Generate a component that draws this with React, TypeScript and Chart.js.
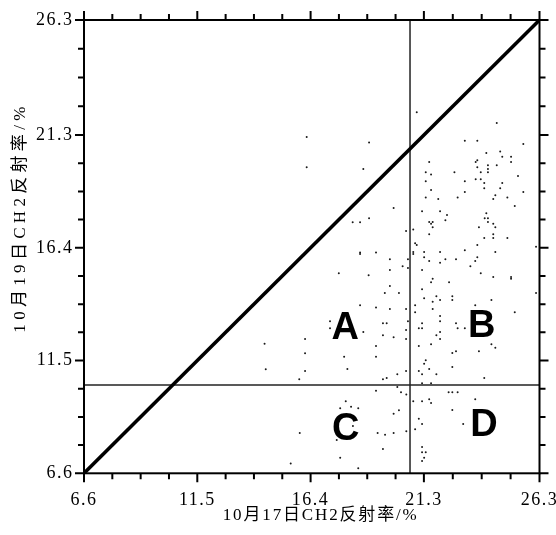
import { useEffect, useRef } from 'react';
import { Chart, registerables } from 'chart.js';

Chart.register(...registerables);

// ---- data ----
const AXIS_MIN = 6.6;
const AXIS_MAX = 26.3;
const tickLabels = ['6.6', '11.5', '16.4', '21.3', '26.3'];
const majorTicks = [6.6, 11.5, 16.4, 21.3, 26.3];
const xTitle = '10月17日CH2反射率/%';
const yTitle = '10月19日CH2反射率/%';

const splitX = 20.7;
const splitY = 10.44;

const regionLabels = ['A', 'B', 'C', 'D'];
const regionX = [17.9, 23.8, 17.92, 23.9];
const regionY = [13.04, 13.12, 8.64, 8.82];

const ptX = [
  16.23, 18.93, 20.99, 16.23, 18.68, 19.99, 18.22, 18.54, 18.93, 20.53,
  20.84, 24.45, 23.07, 23.61, 25.60, 24.00, 24.60, 24.69, 25.07, 21.53,
  23.54, 23.61, 25.07, 24.07, 24.45, 23.61, 24.07, 21.38, 21.61, 22.62,
  23.76, 24.07, 25.37, 21.38, 23.07, 23.54, 23.76, 23.91, 24.69, 21.61,
  23.91, 24.60, 25.60, 23.07, 21.38, 21.92, 22.76, 24.39, 24.30, 24.91,
  25.23, 21.22, 22.00, 22.30, 22.23, 24.00, 23.93, 24.07, 24.07, 24.30,
  24.39, 23.68, 21.53, 21.68, 21.61, 21.68, 21.53, 24.30, 24.30, 23.91,
  24.91, 20.92, 20.99, 23.61, 26.15, 23.07, 21.31, 22.00, 24.39, 20.84,
  20.84, 21.31, 23.61, 22.23, 22.69, 21.53, 22.00, 23.52, 23.31, 20.61,
  20.38, 20.61, 21.22, 23.76, 24.30, 25.07, 25.07, 21.61, 21.68, 22.39,
  21.22, 26.15, 21.31, 21.84, 21.68, 22.00, 22.53, 22.53, 24.22, 20.92,
  23.52, 20.53, 21.68, 20.92, 25.23, 22.00, 20.61, 22.00, 21.22, 22.69,
  21.08, 21.22, 22.76, 23.07, 22.00, 20.53, 21.84, 22.00, 20.53, 21.61,
  21.08, 24.22, 24.39, 22.53, 22.69, 23.68, 21.38, 21.31, 21.53, 22.53,
  20.53, 21.08, 21.22, 21.84, 23.91, 18.54, 18.54, 19.23, 19.83, 19.83,
  17.62, 18.91, 19.83, 19.61, 20.22, 18.54, 19.23, 19.83, 17.24, 17.24,
  19.53, 19.69, 18.68, 19.53, 19.99, 16.16, 16.16, 19.23, 19.23, 17.85,
  17.99, 16.16, 15.91, 19.53, 19.69, 20.15, 14.46, 14.41, 19.23, 20.15,
  20.31, 20.54, 20.84, 17.92, 17.68, 18.15, 18.46, 20.22, 19.99, 18.23,
  15.93, 19.30, 19.62, 19.99, 20.54, 20.92, 17.53, 19.53, 17.68, 15.54,
  18.46, 21.22, 21.61, 22.37, 22.53, 22.76, 21.22, 21.53, 21.61, 23.52,
  22.53, 21.08, 21.22, 23.00, 21.22, 21.38, 21.31, 21.22, 21.22,
];

const ptY = [
  21.22, 20.98, 22.29, 19.90, 19.82, 18.13, 17.51, 17.51, 17.68, 17.13,
  17.20, 21.82, 21.05, 21.05, 20.91, 20.52, 20.59, 20.36, 20.36, 20.13,
  20.13, 20.20, 20.13, 19.99, 19.99, 19.90, 19.82, 19.68, 19.59, 19.68,
  19.68, 19.68, 19.52, 19.29, 19.29, 19.38, 19.38, 19.22, 19.22, 18.91,
  18.99, 18.99, 18.83, 18.83, 18.59, 18.52, 18.59, 18.68, 18.52, 18.59,
  18.22, 17.99, 17.99, 17.83, 17.60, 17.90, 17.68, 17.68, 17.52, 17.45,
  17.29, 17.29, 17.52, 17.52, 17.45, 17.29, 16.99, 16.99, 16.83, 16.83,
  16.83, 16.60, 16.52, 16.52, 16.45, 16.29, 16.22, 16.22, 16.22, 16.22,
  16.13, 15.99, 15.99, 15.90, 15.90, 15.83, 15.75, 15.83, 15.60, 15.90,
  15.60, 15.52, 15.44, 15.29, 15.13, 15.13, 15.06, 14.90, 15.06, 14.90,
  14.60, 14.44, 14.21, 14.29, 14.06, 14.13, 14.29, 14.13, 14.13, 13.90,
  13.90, 13.74, 13.74, 13.60, 13.60, 13.44, 13.21, 13.21, 13.12, 13.12,
  12.90, 12.90, 12.90, 12.90, 12.74, 12.83, 12.60, 12.44, 12.44, 12.21,
  12.13, 12.21, 12.06, 11.83, 11.90, 11.90, 11.51, 11.36, 11.13, 11.22,
  11.05, 11.05, 10.90, 10.90, 10.74, 16.20, 16.13, 16.20, 15.90, 15.44,
  15.29, 15.21, 14.74, 14.44, 14.44, 13.90, 13.81, 13.74, 13.21, 12.90,
  13.12, 13.12, 12.74, 12.60, 12.51, 12.44, 11.82, 12.13, 11.67, 11.67,
  11.13, 11.05, 10.69, 10.69, 10.74, 10.90, 11.12, 12.23, 10.19, 10.35,
  10.12, 10.03, 9.73, 9.73, 9.43, 9.49, 9.43, 9.34, 9.19, 8.66,
  8.35, 8.35, 8.28, 8.35, 8.43, 8.51, 8.05, 7.66, 7.28, 7.03,
  6.82, 10.51, 10.51, 10.12, 10.12, 10.12, 9.73, 9.82, 9.66, 9.82,
  9.35, 8.97, 8.74, 8.74, 7.74, 7.51, 7.28, 7.13, 7.51,
];

const SERIF = '"Liberation Serif", "Times New Roman", "Noto Sans CJK SC", serif';

function minorTickValues(): { v: number; major: boolean }[] {
  const out: { v: number; major: boolean }[] = [];
  majorTicks.forEach((v, i) => {
    out.push({ v, major: true });
    if (i < majorTicks.length - 1) {
      const next = majorTicks[i + 1];
      for (let k = 1; k < 4; k++) out.push({ v: v + ((next - v) * k) / 4, major: false });
    }
  });
  return out;
}

// draw text spread to a target width (letter-spaced), centred at (cx, cy)
function spacedText(ctx: CanvasRenderingContext2D, text: string, cx: number, cy: number, target: number) {
  const chars = Array.from(text);
  const widths = chars.map((c) => ctx.measureText(c).width);
  const total = widths.reduce((a, b) => a + b, 0);
  const gap = chars.length > 1 ? (target - total) / (chars.length - 1) : 0;
  let x = cx - target / 2;
  ctx.textAlign = 'left';
  ctx.textBaseline = 'middle';
  chars.forEach((c, i) => {
    ctx.fillText(c, x, cy);
    x += widths[i] + gap;
  });
}

const framePlugin = {
  id: 'frameTicks',
  beforeDraw(chart: any) {
    (chart.ctx as any).letterSpacing = '1.5px';
  },
  afterDatasetsDraw(chart: any) {
    const { ctx, chartArea, scales } = chart;
    const { left, right, top, bottom } = chartArea;
    const x = scales.x;
    const y = scales.y;
    ctx.save();
    ctx.letterSpacing = '0px';
    // region letters
    ctx.fillStyle = '#000';
    ctx.font = 'bold 38px "Liberation Sans", Arial, sans-serif';
    ctx.textAlign = 'center';
    ctx.textBaseline = 'alphabetic';
    regionLabels.forEach((t, i) => {
      ctx.fillText(t, x.getPixelForValue(regionX[i]), y.getPixelForValue(regionY[i]) + 13.6);
    });
    // frame
    ctx.strokeStyle = '#000';
    ctx.lineWidth = 2;
    ctx.strokeRect(left, top, right - left, bottom - top);
    // ticks on all four sides, outward
    ctx.beginPath();
    minorTickValues().forEach(({ v, major }) => {
      const len = major ? 9 : 6;
      const px = x.getPixelForValue(v);
      ctx.moveTo(px, bottom);
      ctx.lineTo(px, bottom + len);
      ctx.moveTo(px, top);
      ctx.lineTo(px, top - len);
      const py = y.getPixelForValue(v);
      ctx.moveTo(left, py);
      ctx.lineTo(left - len, py);
      ctx.moveTo(right, py);
      ctx.lineTo(right + len, py);
    });
    ctx.stroke();
    // axis titles
    ctx.font = `17px ${SERIF}`;
    ctx.fillStyle = '#000';
    spacedText(ctx, xTitle, (left + right) / 2 + 8, 516, 194);
    ctx.translate(21, (top + bottom) / 2 - 27);
    ctx.rotate(-Math.PI / 2);
    spacedText(ctx, yTitle, 0, 0, 226);
    ctx.restore();
  },
};

export default function App() {
  const ref = useRef<HTMLCanvasElement | null>(null);

  useEffect(() => {
    if (!ref.current) return;
    const points = ptX.map((vx, i) => ({ x: vx, y: ptY[i] }));
    const axisCommon = () => ({
      type: 'linear' as const,
      min: AXIS_MIN,
      max: AXIS_MAX,
      afterBuildTicks: (s: any) => {
        s.ticks = majorTicks.map((v) => ({ value: v }));
      },
      grid: { display: false, drawTicks: false },
      border: { display: false },
      ticks: {
        autoSkip: false,
        maxRotation: 0,
        color: '#000',
        font: { family: SERIF, size: 18 },
        callback: (_v: any, i: number) => tickLabels[i],
      },
      title: { display: false },
    });
    const xAxis: any = axisCommon();
    xAxis.afterFit = (s: any) => {
      s.height = 61.7;
      s.paddingLeft = 0;
      s.paddingRight = 0;
    };
    xAxis.ticks.padding = 16;
    const yAxis: any = axisCommon();
    yAxis.afterFit = (s: any) => {
      s.width = 84;
      s.paddingTop = 0;
      s.paddingBottom = 0;
    };
    yAxis.ticks.padding = 10.5;

    const chart = new Chart(ref.current, {
      type: 'scatter',
      data: {
        datasets: [
          {
            type: 'line',
            data: [
              { x: AXIS_MIN, y: AXIS_MIN },
              { x: AXIS_MAX, y: AXIS_MAX },
            ],
            borderColor: '#000',
            borderWidth: 3.5,
            pointRadius: 0,
            fill: false,
          } as any,
          {
            type: 'line',
            data: [
              { x: splitX, y: AXIS_MIN },
              { x: splitX, y: AXIS_MAX },
            ],
            borderColor: '#222',
            borderWidth: 1.5,
            pointRadius: 0,
            fill: false,
          } as any,
          {
            type: 'line',
            data: [
              { x: AXIS_MIN, y: splitY },
              { x: AXIS_MAX, y: splitY },
            ],
            borderColor: '#222',
            borderWidth: 1.5,
            pointRadius: 0,
            fill: false,
          } as any,
          {
            type: 'scatter',
            data: points,
            pointRadius: 1.0,
            pointBackgroundColor: '#1a1a1a',
            pointBorderWidth: 0,
          } as any,
        ],
      },
      options: {
        animation: false,
        responsive: false,
        maintainAspectRatio: false,
        layout: { padding: { top: 20, right: 16.5, left: 0, bottom: 0 } },
        plugins: { legend: { display: false }, tooltip: { enabled: false } },
        scales: { x: xAxis, y: yAxis },
      },
      plugins: [framePlugin],
    });
    return () => chart.destroy();
  }, []);

  return (
    <div style={{ position: 'fixed', left: 0, top: 0, width: 556, height: 535, background: '#fff' }}>
      <canvas ref={ref} width={556} height={535} style={{ display: 'block' }} />
    </div>
  );
}
